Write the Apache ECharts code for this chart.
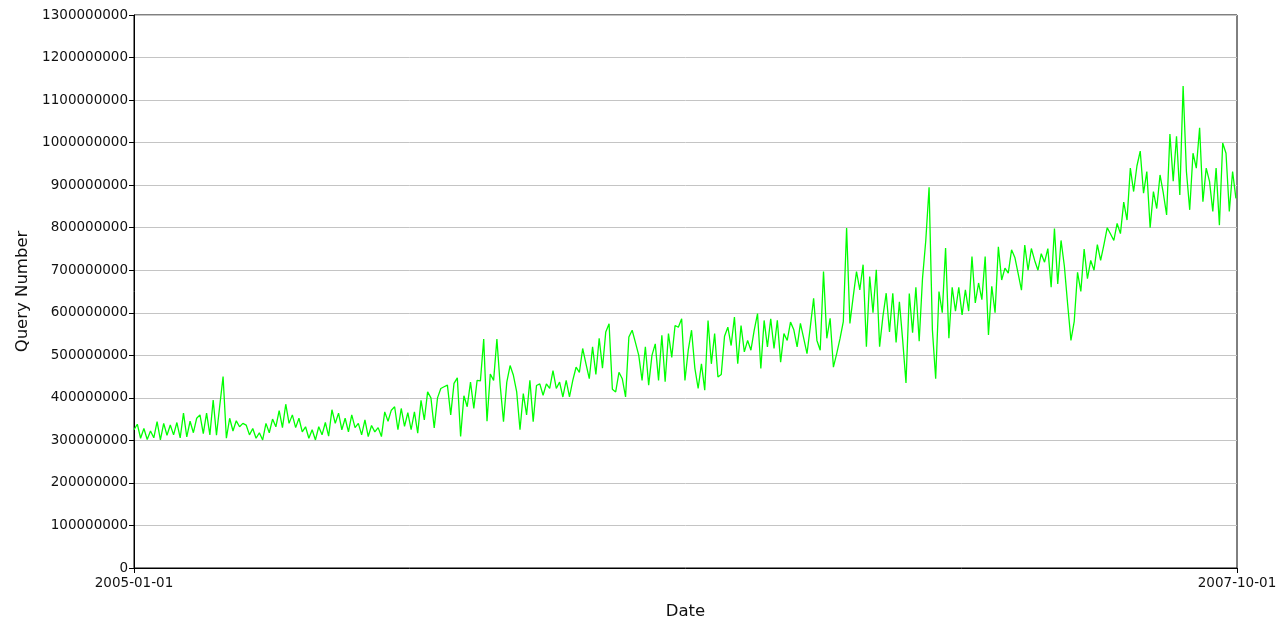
<!DOCTYPE html>
<html><head><meta charset="utf-8">
<script src="https://cdn.jsdelivr.net/npm/echarts@6/dist/echarts.min.js"></script>
<style>html,body{margin:0;padding:0;background:#fff}#c{width:1284px;height:619px}</style>
</head><body><div id="c"></div>
<script>
// X axis: days since 2005-01-01, one reading every 3 days
const xStartLabel = '2005-01-01';
const xEndLabel = '2007-10-01';
const xSpanDays = 1003;
const stepDays = 3;
// Query numbers, in millions
const queryMillions = [
  325, 338, 305, 328, 302, 322, 306, 344, 301, 340, 312, 336, 313, 342, 306, 364, 308, 345, 318, 352,
  360, 316, 364, 313, 395, 312, 382, 450, 305, 352, 322, 346, 332, 340,
  336, 313, 328, 305, 318, 301, 340, 318, 350, 332, 370, 330, 385, 340, 360, 330, 352, 320, 332, 305,
  325, 301, 332, 313, 342, 310, 372, 340, 364, 325, 352, 320, 360, 330,
  340, 313, 348, 309, 335, 320, 330, 309, 367, 345, 371, 379, 325, 375, 333, 365, 325, 367, 317, 394,
  348, 414, 400, 329, 400, 422, 426, 430, 360, 434, 447, 309, 405,
  379, 437, 375, 441, 440, 538, 345, 456, 441, 538, 429, 344, 437, 476, 453, 414, 325, 410, 360, 441,
  344, 429, 433, 406, 433, 422, 464, 422, 437, 402, 441, 402, 441, 472,
  460, 516, 480, 445, 520, 455, 540, 470, 555, 574, 420, 414, 460, 445, 402, 543, 559, 530, 500, 441,
  520, 430, 500, 527, 441, 547, 438, 551, 495, 570, 566, 586, 441,
  512, 559, 470, 422, 480, 418, 582, 480, 551, 449, 455, 545, 566, 523, 590, 480, 570, 508, 535, 512,
  559, 598, 469, 582, 520, 586, 516, 582, 484, 551, 535, 578, 560,
  520, 575, 540, 504, 567, 634, 535, 512, 697, 540, 587, 472, 504, 539, 579, 799, 575, 638, 697, 654,
  713, 520, 685, 600, 701, 520, 591, 646, 555, 646, 530, 626, 535, 435,
  645, 553, 660, 533, 680, 770, 895, 560, 445, 650, 600, 752, 540, 660, 604, 660, 595, 654, 604, 732,
  623, 670, 631, 732, 548, 662, 600, 755, 677, 705, 693, 748, 730,
  692, 653, 759, 700, 751, 723, 700, 739, 719, 751, 660, 798, 668, 770, 710, 620, 535, 580, 695, 650,
  750, 680, 723, 700, 760, 723, 760, 800, 785, 770, 810, 786, 860,
  818, 940, 885, 945, 980, 881, 932, 800, 885, 845, 924, 881, 830, 1020, 909, 1015, 877, 1133, 932, 842,
  975, 940, 1035, 861, 940, 909, 838, 940, 806, 999, 975, 838, 932, 869
];
const yMin = 0, yMax = 1300000000, yStep = 100000000;

const seriesData = queryMillions.map((v, i) => [i * stepDays, v * 1000000]);
const chart = echarts.init(document.getElementById('c'), null, {renderer: 'canvas'});
const txt = '#111';
chart.setOption({
  animation: false,
  backgroundColor: '#fff',
  grid: {left: 134, right: 47, top: 15, bottom: 51, show: true, borderColor: '#000', borderWidth: 1,
         containLabel: false, outerBoundsMode: 'none'},
  xAxis: {
    type: 'value', min: 0, max: xSpanDays, interval: xSpanDays,
    name: 'Date', nameLocation: 'middle', nameGap: 35,
    nameTextStyle: {fontFamily: 'DejaVu Sans', fontSize: 16.5, color: txt},
    axisLine: {show: true, onZero: false, lineStyle: {color: '#000', width: 1}},
    axisTick: {show: true, length: 5, lineStyle: {color: '#000'}},
    axisLabel: {fontFamily: 'DejaVu Sans', fontSize: 13.5, color: txt, margin: 8,
      formatter: v => v === 0 ? xStartLabel : (v === xSpanDays ? xEndLabel : '')},
    splitLine: {show: false}
  },
  yAxis: {
    type: 'value', min: yMin, max: yMax, interval: yStep,
    name: 'Query Number', nameLocation: 'middle', nameRotate: 90, nameGap: 102,
    nameTextStyle: {fontFamily: 'DejaVu Sans', fontSize: 16.5, color: txt},
    axisLine: {show: true, lineStyle: {color: '#000', width: 1}},
    axisTick: {show: true, length: 5, lineStyle: {color: '#000'}},
    axisLabel: {fontFamily: 'DejaVu Sans', fontSize: 13.5, color: txt, margin: 6, formatter: v => String(v)},
    splitLine: {show: true, lineStyle: {color: '#c4c4c4', width: 1}}
  },
  series: [{
    type: 'line', data: seriesData, showSymbol: false, symbol: 'none',
    lineStyle: {color: '#00ff00', width: 1.3}, z: 3
  }]
});
</script></body></html>
